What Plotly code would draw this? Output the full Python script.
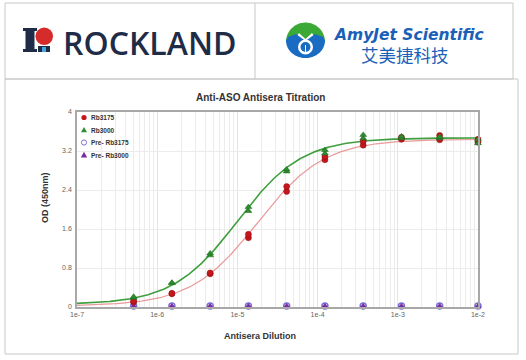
import numpy as np
import plotly.graph_objects as go

# ---------------- data ----------------
dilution_factor = [1968300, 656100, 218700, 72900, 24300, 8100, 2700, 900, 300, 100]
rb3175_rep1 = [0.10, 0.27, 0.68, 1.42, 2.37, 3.02, 3.32, 3.44, 3.43, 3.38]
rb3175_rep2 = [0.13, 0.28, 0.70, 1.49, 2.47, 3.08, 3.40, 3.48, 3.52, 3.44]
rb3000_rep1 = [0.19, 0.49, 1.06, 1.97, 2.78, 3.15, 3.46, 3.46, 3.46, 3.36]
rb3000_rep2 = [0.21, 0.50, 1.10, 2.05, 2.82, 3.22, 3.53, 3.50, 3.49, 3.44]
pre_rb3175 = [0.02, 0.02, 0.02, 0.02, 0.02, 0.02, 0.02, 0.02, 0.02, 0.02]
pre_rb3000 = [0.02, 0.02, 0.02, 0.02, 0.02, 0.02, 0.02, 0.02, 0.02, 0.02]
# 4PL fit parameters: bottom, top, logEC50, hill
fit_rb3175 = [0.02, 3.44, -4.75, 1.05]
fit_rb3000 = [0.05, 3.47, -5.00, 1.08]
x_tick_vals = [1e-7, 1e-6, 1e-5, 1e-4, 1e-3, 1e-2]
x_tick_text = ["1e-7", "1e-6", "1e-5", "1e-4", "1e-3", "1e-2"]
y_tick_vals = [0, 0.8, 1.6, 2.4, 3.2, 4]
y_tick_text = ["0", "0.8", "1.6", "2.4", "3.2", "4"]
legend_names = ["Rb3175", "Rb3000", "Pre- Rb3175", "Pre- Rb3000"]

# ---------------- layout geometry ----------------
W, H = 526, 360
L, R, T, B = 77, 48, 112, 53
PW, PH = W - L - R, H - T - B


def px(x):
    return (x - L) / PW


def py(y):
    return (H - B - y) / PH


RED = "#c4161c"
GREEN = "#2e8b2e"
PRE_C = "#7b6fd8"
PRE_T = "#7a2d9c"

x = [1.0 / d for d in dilution_factor]
fig = go.Figure()


def fourpl(p, xs):
    b, t, ec, h = p
    return b + (t - b) / (1 + 10 ** ((ec - np.log10(xs)) * h))


xc = np.logspace(-7, -2, 300)
fig.add_trace(go.Scatter(x=xc, y=fourpl(fit_rb3175, xc), mode="lines",
                         line=dict(color="#e99a9a", width=1.2), hoverinfo="skip"))
fig.add_trace(go.Scatter(x=xc, y=fourpl(fit_rb3000, xc), mode="lines",
                         line=dict(color="#3f9f3f", width=1.6), hoverinfo="skip"))

fig.add_trace(go.Scatter(x=x, y=pre_rb3175, mode="markers",
                         marker=dict(symbol="circle-open", size=6, color=PRE_C, line=dict(width=1.5))))
fig.add_trace(go.Scatter(x=x, y=pre_rb3000, mode="markers",
                         marker=dict(symbol="triangle-up", size=6, color=PRE_T)))
for ys in (rb3175_rep1, rb3175_rep2):
    fig.add_trace(go.Scatter(x=x, y=ys, mode="markers",
                             marker=dict(symbol="circle", size=6, color=RED, line=dict(color="#8a0e12", width=0.5))))
for ys in (rb3000_rep1, rb3000_rep2):
    fig.add_trace(go.Scatter(x=x, y=ys, mode="markers",
                             marker=dict(symbol="triangle-up", size=6, color=GREEN, line=dict(color="#1d6a1d", width=0.5))))

shapes = []
annotations = []

# outer frames
gray = "#c8c8c8"
shapes.append(dict(type="rect", xref="paper", yref="paper", x0=px(5), x1=px(513), y0=py(3), y1=py(79),
                   line=dict(color=gray, width=1), layer="below"))
shapes.append(dict(type="line", xref="paper", yref="paper", x0=px(255), x1=px(255), y0=py(3), y1=py(79),
                   line=dict(color=gray, width=1)))
shapes.append(dict(type="rect", xref="paper", yref="paper", x0=px(5), x1=px(518), y0=py(79), y1=py(354),
                   line=dict(color=gray, width=1), layer="below"))


def poly(points, color):
    d = "M " + " L ".join(f"{px(a):.5f},{py(b):.5f}" for a, b in points) + " Z"
    return dict(type="path", xref="paper", yref="paper", path=d, fillcolor=color, line=dict(width=0))


# Rockland icon
NAVY = "#1f2c48"
shapes.append(poly([(23, 28), (37, 28), (37, 31), (34.5, 31), (34.5, 49), (37, 49), (37, 52),
                    (23, 52), (23, 49), (25.5, 49), (25.5, 31), (23, 31)], NAVY))
shapes.append(dict(type="circle", xref="paper", yref="paper", x0=px(35.5), x1=px(53), y0=py(27.5), y1=py(45),
                   fillcolor="#d52b2b", line=dict(width=0)))
shapes.append(poly([(38, 46), (50, 46), (50, 52), (38, 52)], NAVY))
shapes.append(poly([(42, 47), (46, 47), (46, 52), (42, 52)], "#4aa3df"))
annotations.append(dict(text="ROCKLAND", xref="paper", yref="paper", x=px(60.5), y=py(42.5), xanchor="left",
                        yanchor="middle", showarrow=False,
                        font=dict(family="Open Sans", size=32, weight=600, color=NAVY)))

# AmyJet icon
cx, cy, r = 305.5, 40.0, 19.5
th = np.linspace(np.pi, 2 * np.pi, 40)
dome = [(cx + r * np.cos(t), cy + 2 + r * np.sin(t)) for t in th]
dome += [(318, 42), (312, 33), (305.5, 39), (299, 33), (293, 42)]
shapes.append(poly(dome, "#3aa935"))
th2 = np.linspace(0, np.pi, 40)
bowl = [(cx + r * np.cos(t), cy + 0.5 + r * np.sin(t) * 0.9) for t in th2]
bowl += [(288, 37), (296, 34), (305.5, 41), (315, 34), (323, 37)]
shapes.append(poly(bowl, "#1a6cc2"))
shapes.append(dict(type="circle", xref="paper", yref="paper", x0=px(298), x1=px(313), y0=py(39.5), y1=py(54.5),
                   fillcolor="white", line=dict(width=0)))
shapes.append(dict(type="circle", xref="paper", yref="paper", x0=px(300.5), x1=px(310.5), y0=py(42), y1=py(52),
                   fillcolor="#1a6cc2", line=dict(width=0)))
shapes.append(poly([(305, 45), (306, 45), (306, 54), (305, 54)], "white"))
annotations.append(dict(text="<b><i>AmyJet Scientific</i></b>", xref="paper", yref="paper", x=px(332), y=py(35),
                        xanchor="left", yanchor="middle", showarrow=False,
                        font=dict(family="DejaVu Sans", size=15.5, color="#1a5fb8")))
annotations.append(dict(text="艾美捷科技", xref="paper", yref="paper", x=px(405), y=py(54.5),
                        xanchor="center", yanchor="middle", showarrow=False,
                        font=dict(family="Noto Sans CJK SC", size=17.5, color="#1a5fb8")))

# chart titles
annotations.append(dict(text="<b>Anti-ASO Antisera Titration</b>", xref="paper", yref="paper", x=px(260), y=py(97),
                        xanchor="center", yanchor="middle", showarrow=False,
                        font=dict(family="Liberation Sans", size=10, color="#333333")))
annotations.append(dict(text="<b>Antisera Dilution</b>", xref="paper", yref="paper", x=px(260), y=py(336),
                        xanchor="center", yanchor="middle", showarrow=False,
                        font=dict(family="Liberation Sans", size=9, color="#333333")))
annotations.append(dict(text="<b>OD (450nm)</b>", xref="paper", yref="paper", x=px(45), y=py(198),
                        xanchor="center", yanchor="middle", showarrow=False, textangle=-90,
                        font=dict(family="Liberation Sans", size=9, color="#333333")))

# legend
leg_y = [117.5, 130, 142.5, 155]
mk = 2.6
shapes.append(dict(type="circle", xref="paper", yref="paper", x0=px(84 - mk), x1=px(84 + mk),
                   y0=py(leg_y[0] - mk), y1=py(leg_y[0] + mk), fillcolor=RED, line=dict(width=0)))
shapes.append(poly([(84, leg_y[1] - 3), (87, leg_y[1] + 2.2), (81, leg_y[1] + 2.2)], GREEN))
shapes.append(dict(type="circle", xref="paper", yref="paper", x0=px(84 - mk), x1=px(84 + mk),
                   y0=py(leg_y[2] - mk), y1=py(leg_y[2] + mk), fillcolor="white",
                   line=dict(color=PRE_C, width=1)))
shapes.append(poly([(84, leg_y[3] - 3.2), (87.2, leg_y[3] + 2.4), (80.8, leg_y[3] + 2.4)], PRE_T))
for name, yy in zip(legend_names, leg_y):
    annotations.append(dict(text=f"<b>{name}</b>", xref="paper", yref="paper", x=px(89), y=py(yy),
                            xanchor="left", yanchor="middle", showarrow=False,
                            font=dict(family="Liberation Sans", size=6.5, color="#333333")))

fig.update_layout(
    width=W, height=H, margin=dict(l=L, r=R, t=T, b=B),
    paper_bgcolor="white", plot_bgcolor="white", showlegend=False,
    shapes=shapes, annotations=annotations,
    xaxis=dict(type="log", range=[-7.0005, -1.9995], tickvals=x_tick_vals, ticktext=x_tick_text,
               showgrid=True, gridcolor="#e4e4e4", gridwidth=1,
               minor=dict(showgrid=True, gridcolor="#ececec", dtick="D1"),
               showline=True, linecolor="#a8a8a8", linewidth=1.5, mirror=True,
               ticks="", tickfont=dict(family="Liberation Sans", size=7, color="#666666"), zeroline=False),
    yaxis=dict(range=[0, 4], tickvals=y_tick_vals, ticktext=y_tick_text,
               showgrid=True, gridcolor="#ececec", gridwidth=1,
               showline=True, linecolor="#a8a8a8", linewidth=1.5, mirror=True,
               ticks="", ticklabelstandoff=2,
               tickfont=dict(family="Liberation Sans", size=7, color="#666666"), zeroline=False),
)
fig.update_traces(cliponaxis=False)
fig.write_html("out.html")
